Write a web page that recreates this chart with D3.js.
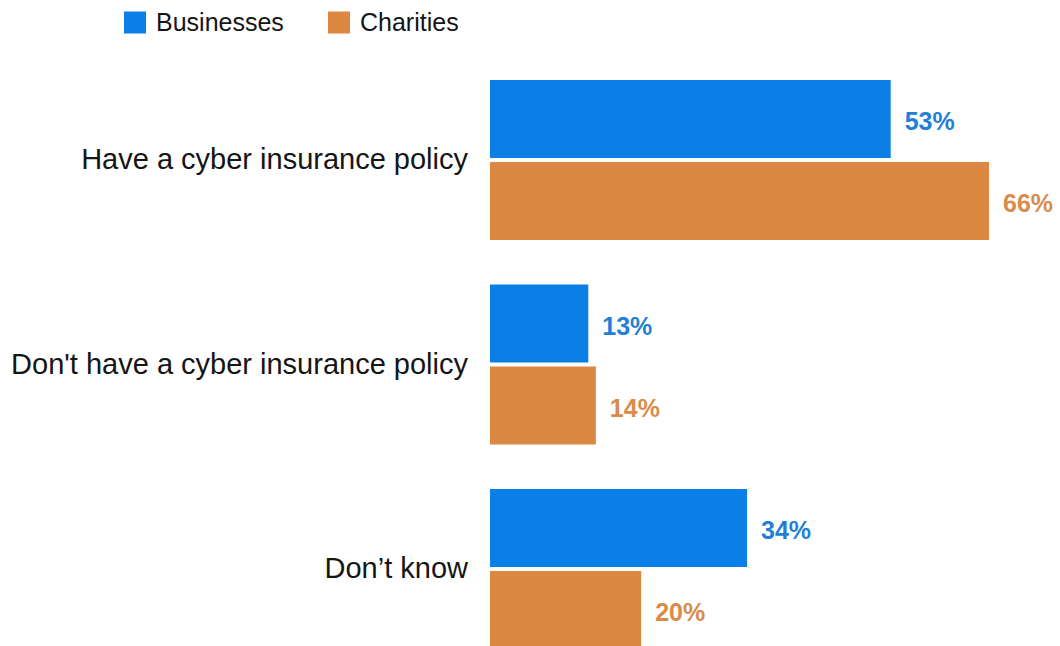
<!DOCTYPE html>
<html>
<head>
<meta charset="utf-8">
<script src="https://cdn.jsdelivr.net/npm/d3@7"></script>
<style>
  html, body { margin: 0; padding: 0; background: #ffffff; }
  svg { display: block; font-family: "Liberation Sans", Arial, sans-serif; }
</style>
</head>
<body>
<svg id="chart" width="1060" height="646"></svg>
<script>
// Survey responses: share of organisations with cyber insurance
const categories = ["Have a cyber insurance policy", "Don't have a cyber insurance policy", "Don\u2019t know"];
const series = ["Businesses", "Charities"];
const businesses = [53, 13, 34];
const charities = [66, 14, 20];

const seriesValues = { Businesses: businesses, Charities: charities };
const barColors = { Businesses: "#0a80e6", Charities: "#dc8843" };
const labelColors = { Businesses: "#237fd6", Charities: "#d98b4b" };

const svg = d3.select("#chart");

// Horizontal value scale: 0% sits at the left edge of the bars
const x = d3.scaleLinear().domain([0, 66]).range([490, 989]);

// Outer band per category, inner band per series
const y0 = d3.scaleBand().domain(categories).range([80, 649]).paddingInner(44.5 / 204.5).paddingOuter(0);
const y1 = d3.scaleBand().domain(series).range([0, y0.bandwidth()]).paddingInner(4 / 82);

const groups = svg.selectAll("g.group")
  .data(categories)
  .join("g")
  .attr("class", "group")
  .attr("transform", d => `translate(0,${y0(d)})`);

groups.selectAll("rect")
  .data((c, i) => series.map(s => ({ s, v: seriesValues[s][i] })))
  .join("rect")
  .attr("x", x(0))
  .attr("y", d => y1(d.s))
  .attr("width", d => x(d.v) - x(0))
  .attr("height", y1.bandwidth())
  .attr("fill", d => barColors[d.s]);

// Value labels just past the end of each bar
groups.selectAll("text.value")
  .data((c, i) => series.map(s => ({ s, v: seriesValues[s][i] })))
  .join("text")
  .attr("class", "value")
  .attr("x", d => x(d.v) + 14)
  .attr("y", d => y1(d.s) + y1.bandwidth() / 2 + 11)
  .attr("font-size", 25)
  .attr("font-weight", "bold")
  .attr("fill", d => labelColors[d.s])
  .text(d => d.v + "%");

// Category labels, right aligned against the bars
const yAxis = d3.axisLeft(y0).tickSize(0).tickPadding(22);
const axisG = svg.append("g")
  .attr("transform", `translate(${x(0)},0)`)
  .call(yAxis);
axisG.select(".domain").remove();
axisG.selectAll("text")
  .attr("font-size", 29)
  .attr("font-family", "\"Liberation Sans\", Arial, sans-serif")
  .attr("fill", "#151515");

// Legend
const legend = svg.append("g").attr("class", "legend");
const legendX = [124, 328];
series.forEach((s, i) => {
  legend.append("rect")
    .attr("x", legendX[i])
    .attr("y", 11.5)
    .attr("width", 22)
    .attr("height", 22)
    .attr("fill", barColors[s]);
  legend.append("text")
    .attr("x", legendX[i] + 32)
    .attr("y", 31)
    .attr("font-size", 25)
    .attr("fill", "#151515")
    .text(s);
});
</script>
</body>
</html>
